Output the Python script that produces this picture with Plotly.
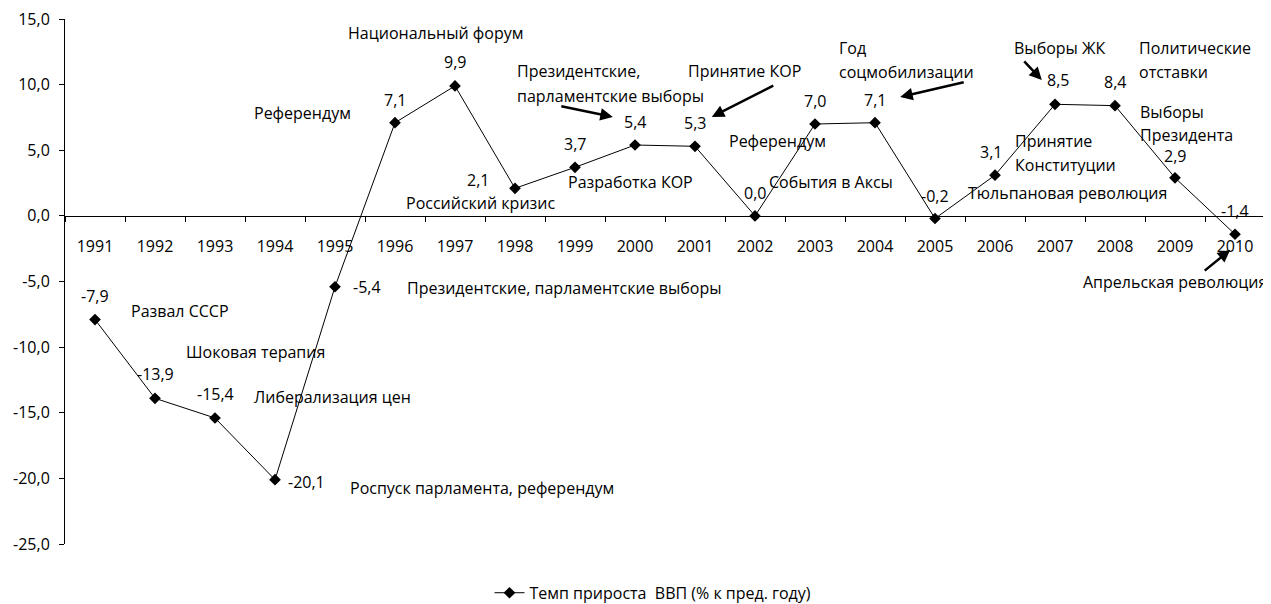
import plotly.graph_objects as go

# ---- data ----
years = [str(y) for y in range(1991, 2011)]
gdp_growth = [-7.9, -13.9, -15.4, -20.1, -5.4, 7.1, 9.9, 2.1, 3.7, 5.4,
              5.3, 0.0, 7.0, 7.1, -0.2, 3.1, 8.5, 8.4, 2.9, -1.4]
series_name = "Темп прироста  ВВП (% к пред. году)"
y_ticks = [15, 10, 5, 0, -5, -10, -15, -20, -25]

# data-label placement (pixel offsets relative to each point)
label_dx = [0, 0, 0, 31, 32, 0, 0, -37, 0, 0, 0, 0, 0, 0, 0, -4, 3, 0, 0, 0]
label_dy = [24, 24, 24, -2, 0, 23, 24, 8, 23, 23, 23, 23, 23, 23, 23, 23, 24, 24, 22, 23]

# event text lines: (text, x in category units, y in data units, anchor)
events = [
    ("Национальный форум", 5.68, 13.93, "center"),
    ("Референдум", 3.45, 7.84, "center"),
    ("Президентские,", 7.0, 11.04, "left"),
    ("парламентские выборы", 7.0, 9.14, "left"),
    ("Принятие КОР", 10.83, 11.04, "center"),
    ("Референдум", 11.37, 5.71, "center"),
    ("Разработка КОР", 8.93, 2.59, "center"),
    ("Российский кризис", 6.43, 0.99, "center"),
    ("События в Аксы", 12.27, 2.59, "center"),
    ("Год", 12.37, 12.79, "left"),
    ("соцмобилизации", 12.37, 10.96, "left"),
    ("Выборы ЖК", 16.08, 12.79, "center"),
    ("Политические", 17.37, 12.79, "left"),
    ("отставки", 17.37, 10.96, "left"),
    ("Выборы", 17.38, 7.92, "left"),
    ("Президента", 17.38, 6.2, "left"),
    ("Принятие", 15.3, 5.71, "left"),
    ("Конституции", 15.3, 3.88, "left"),
    ("Тюльпановая революция", 16.2, 1.75, "center"),
    ("Апрельская революция", 18.0, -5.03, "center"),
    ("Развал СССР", 1.42, -7.23, "center"),
    ("Шоковая терапия", 2.67, -10.36, "center"),
    ("Либерализация цен", 3.95, -13.78, "center"),
    ("Роспуск парламента, референдум", 6.45, -20.71, "center"),
    ("Президентские, парламентские выборы", 7.83, -5.48, "center"),
]

# arrows: head (x category units, y data units), tail offset in pixels
arrows = [
    (8.63, 7.54, -53, -11),
    (10.28, 7.54, 63, -32),
    (13.42, 9.06, 65, -15),
    (15.78, 10.36, -19, -20),
    (18.92, -2.59, -27, 22),
]

FONT = "Open Sans"
FS = 16


def fmt(v):
    return f"{v:.1f}".replace(".", ",")


fig = go.Figure()
fig.add_trace(go.Scatter(
    x=years, y=gdp_growth, mode="lines+markers", name=series_name,
    line=dict(color="black", width=1),
    marker=dict(symbol="diamond", size=9, color="black"),
))

annotations = []
for i, (v, dx, dy) in enumerate(zip(gdp_growth, label_dx, label_dy)):
    annotations.append(dict(
        x=i, y=v, xref="x", yref="y", text=fmt(v),
        showarrow=False, xshift=dx, yshift=dy,
        font=dict(family=FONT, size=FS, color="black"),
    ))
for text, x, y, anchor in events:
    annotations.append(dict(
        x=x, y=y, xref="x", yref="y", text=text, showarrow=False,
        xanchor=anchor, yanchor="middle", align=anchor,
        font=dict(family=FONT, size=FS, color="black"),
    ))
for hx, hy, ax, ay in arrows:
    annotations.append(dict(
        x=hx, y=hy, xref="x", yref="y", text="", showarrow=True,
        ax=ax, ay=ay, arrowhead=2, arrowsize=1, arrowwidth=2.5,
        arrowcolor="black", standoff=0,
    ))

# page body adds an 8px margin, so the figure is sized to fit the window
fig.update_layout(
    width=1263, height=596,
    margin=dict(l=57, r=6, t=11, b=60, autoexpand=False),
    paper_bgcolor="white", plot_bgcolor="white",
    font=dict(family=FONT, size=FS, color="black"),
    showlegend=True,
    legend=dict(orientation="h", x=0.49, xanchor="center", y=-0.093,
                yanchor="middle", font=dict(family=FONT, size=FS)),
    annotations=annotations,
    xaxis=dict(
        type="category", anchor="free", position=0.625, automargin=False,
        range=[-0.5, 19.5], showline=True, linecolor="black", linewidth=1,
        ticks="outside", tickson="boundaries", ticklen=5, tickcolor="black",
        showgrid=False, zeroline=False, ticklabelstandoff=16,
        tickfont=dict(family=FONT, size=FS),
    ),
    yaxis=dict(
        range=[-25, 15], tickvals=y_ticks, ticktext=[fmt(t) for t in y_ticks],
        automargin=False, ticklabeloverflow="allow", ticklabelstandoff=6,
        showline=True, linecolor="black", linewidth=1,
        ticks="outside", ticklen=5, tickcolor="black",
        showgrid=False, zeroline=False,
        tickfont=dict(family=FONT, size=FS),
    ),
)

fig.write_html("out.html")
